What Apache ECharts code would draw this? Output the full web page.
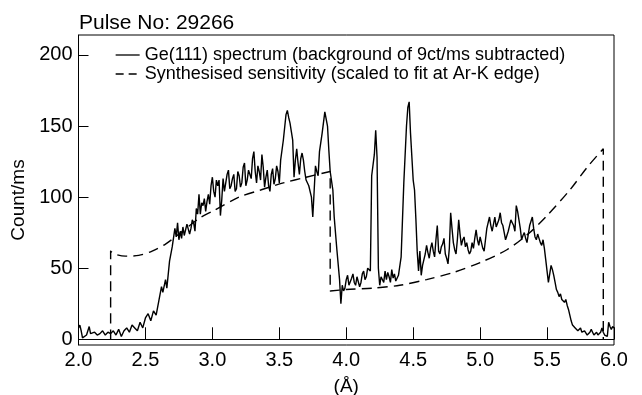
<!DOCTYPE html>
<html>
<head>
<meta charset="utf-8">
<script src="https://cdn.jsdelivr.net/npm/echarts@6/dist/echarts.min.js"></script>
<style>html,body{margin:0;padding:0;background:#fff}#c{width:642px;height:395px}</style>
</head>
<body>
<div id="c"></div>
<script>
const titleText = 'Pulse No: 29266';
const seriesNames = ['Ge(111) spectrum (background of 9ct/ms subtracted)', 'Synthesised sensitivity (scaled to fit at Ar-K edge)'];
const yTicks = [0, 50, 100, 150, 200];

const specX = [2.00,2.01,2.02,2.03,2.04,2.06,2.08,2.09,2.10,2.12,2.14,2.16,2.18,2.20,2.22,2.24,2.26,2.28,2.30,2.32,2.34,2.36,2.38,2.40,2.42,2.44,2.46,2.48,2.50,2.52,2.54,2.56,2.58,2.60,2.62,2.63,2.65,2.66,2.68,2.70,2.72,2.73,2.74,2.75,2.76,2.77,2.78,2.79,2.80,2.81,2.82,2.83,2.84,2.85,2.86,2.87,2.88,2.89,2.90,2.91,2.92,2.93,2.94,2.95,2.96,2.97,2.98,2.99,3.00,3.01,3.02,3.03,3.04,3.05,3.06,3.07,3.08,3.09,3.10,3.11,3.12,3.13,3.14,3.15,3.16,3.17,3.18,3.19,3.20,3.21,3.22,3.23,3.24,3.25,3.26,3.27,3.28,3.29,3.30,3.31,3.32,3.33,3.34,3.35,3.36,3.37,3.38,3.39,3.40,3.41,3.42,3.43,3.44,3.45,3.46,3.47,3.48,3.49,3.50,3.51,3.53,3.55,3.56,3.57,3.58,3.59,3.60,3.61,3.62,3.63,3.64,3.65,3.66,3.67,3.68,3.69,3.70,3.72,3.74,3.75,3.76,3.77,3.78,3.79,3.80,3.82,3.84,3.86,3.87,3.88,3.90,3.91,3.93,3.95,3.96,3.97,3.98,3.99,4.00,4.01,4.02,4.03,4.04,4.05,4.06,4.07,4.08,4.09,4.10,4.11,4.12,4.13,4.14,4.15,4.16,4.18,4.19,4.21,4.22,4.23,4.24,4.25,4.26,4.27,4.28,4.29,4.30,4.31,4.32,4.33,4.34,4.35,4.36,4.37,4.39,4.41,4.43,4.45,4.46,4.47,4.48,4.50,4.51,4.52,4.53,4.54,4.55,4.56,4.57,4.58,4.59,4.60,4.61,4.62,4.63,4.64,4.65,4.66,4.67,4.68,4.69,4.70,4.71,4.72,4.73,4.74,4.75,4.76,4.77,4.78,4.79,4.80,4.81,4.82,4.83,4.84,4.85,4.86,4.87,4.88,4.89,4.90,4.91,4.92,4.93,4.94,4.95,4.96,4.97,4.98,4.99,5.00,5.01,5.02,5.03,5.04,5.05,5.06,5.07,5.08,5.09,5.10,5.11,5.12,5.13,5.14,5.15,5.16,5.17,5.18,5.19,5.20,5.21,5.22,5.23,5.24,5.25,5.26,5.27,5.28,5.29,5.30,5.31,5.32,5.33,5.34,5.35,5.36,5.37,5.38,5.39,5.40,5.41,5.42,5.43,5.44,5.45,5.46,5.47,5.48,5.49,5.50,5.51,5.52,5.53,5.54,5.55,5.56,5.57,5.58,5.59,5.60,5.61,5.62,5.63,5.64,5.65,5.66,5.67,5.68,5.69,5.70,5.71,5.72,5.73,5.74,5.75,5.76,5.77,5.78,5.79,5.80,5.81,5.82,5.83,5.84,5.85,5.86,5.87,5.88,5.89,5.90,5.91,5.92,5.93,5.94,5.95,5.96,5.97,5.98,5.99,6.00];
const specY = [8,10,6,1,2,3,9,4,3,5,3,4,6,3,5,4,6,3,7,2,6,8,5,10,8,6,12,8,15,18,13,20,17,27,37,33,42,36,55,65,78,72,82,70,76,71,79,73,72,81,80,74,78,84,82,76,92,88,102,88,96,94,99,90,97,102,95,108,114,104,100,112,108,112,87,98,113,104,105,116,119,106,108,113,116,104,106,118,115,107,110,121,124,108,112,119,120,113,127,132,118,110,122,118,112,130,121,107,114,119,108,104,116,120,109,113,122,118,110,126,140,158,161,156,152,146,140,114,126,134,124,116,127,131,126,118,112,108,100,86,104,122,118,115,132,145,160,150,133,118,105,86,63,42,25,38,34,36,42,45,38,37,43,46,40,38,44,45,37,40,46,48,42,44,50,48,115,130,147,128,50,38,44,43,40,48,42,47,44,40,49,43,46,41,45,58,110,150,163,167,145,112,105,85,62,48,62,45,52,56,60,66,61,57,64,68,62,58,70,80,62,60,65,67,71,60,57,53,64,89,78,68,63,60,70,84,74,66,70,72,65,68,63,60,62,68,64,71,77,70,66,72,68,64,62,70,78,82,86,80,76,81,86,79,80,84,89,82,80,75,70,73,76,80,84,82,80,76,94,90,84,78,70,73,75,71,68,74,80,83,86,78,72,70,74,71,68,66,70,64,56,48,40,46,52,49,45,40,35,33,30,32,28,27,26,28,24,21,17,13,10,9,8,7,6,7,8,5,4,6,6,3,2,5,7,5,3,4,5,3,2,5,8,5,3,2,2,12,9,7,9,8,6,4,3];

const sensX = [2.24,2.24,2.27,2.35,2.45,2.55,2.65,2.75,2.90,3.00,3.20,3.36,3.53,3.70,3.88,3.88,4.00,4.20,4.40,4.60,4.80,5.00,5.20,5.37,5.50,5.67,5.80,5.92,5.92];
const sensY = [0,62,60,58.5,59,62,67,74,85,90,100,105,110,114,118,34,35,36,38,42,47,54,63,75,87,105,121,134,0];

const specData = specX.map((x, i) => [x, specY[i]]);
const sensData = sensX.map((x, i) => [x, sensY[i]]);

const font = 'Liberation Sans, Arial, Helvetica, sans-serif';
const chart = echarts.init(document.getElementById('c'), null, {renderer: 'canvas'});
chart.setOption({
  animation: false,
  backgroundColor: '#fff',
  title: {
    text: titleText, left: 74, top: 8,
    textStyle: {fontFamily: font, fontSize: 21, fontWeight: 'normal', color: '#000'}
  },
  legend: {
    show: true,
    orient: 'vertical', left: 110, top: 41, itemGap: 1,
    itemWidth: 24, itemHeight: 14,
    itemStyle: {opacity: 0},
    textStyle: {fontFamily: font, fontSize: 18, color: '#000'},
    data: [
      {name: seriesNames[0], lineStyle: {type: 'solid', width: 1.3, color: '#000'}},
      {name: seriesNames[1], lineStyle: {type: [8, 5], width: 1.3, color: '#000'}}
    ]
  },
  grid: {left: 78.5, right: 28, top: 35, bottom: 50, show: true, borderColor: '#000', borderWidth: 1, backgroundColor: 'transparent', outerBoundsMode: 'none'},
  xAxis: {
    type: 'value', min: 2, max: 6, interval: 0.5,
    name: '(Å)', nameLocation: 'middle', nameGap: 32,
    nameTextStyle: {fontFamily: font, fontSize: 19, color: '#000'},
    axisLine: {show: true, lineStyle: {color: '#000', width: 1}},
    axisTick: {show: true, inside: true, length: 12, lineStyle: {color: '#000'}},
    axisLabel: {fontFamily: font, fontSize: 20, color: '#000', margin: 5, formatter: v => v.toFixed(1)},
    splitLine: {show: false}
  },
  yAxis: {
    type: 'value', min: -4, max: 214,
    name: 'Count/ms', nameLocation: 'middle', nameGap: 10,
    nameTextStyle: {fontFamily: font, fontSize: 19, color: '#000', padding: [0, 20, 0, 0]},
    axisLine: {show: true, lineStyle: {color: '#000', width: 1}},
    axisTick: {show: true, inside: true, length: 10, lineStyle: {color: '#000'}, customValues: yTicks},
    axisLabel: {fontFamily: font, fontSize: 20, color: '#000', margin: 6, customValues: yTicks},
    splitLine: {show: false}
  },
  series: [
    {
      name: seriesNames[0], type: 'line', data: specData, symbol: 'none',
      lineStyle: {color: '#000', width: 1.4}, itemStyle: {color: '#000'}
    },
    {
      name: seriesNames[1], type: 'line', data: sensData, symbol: 'none', smooth: 0.3,
      lineStyle: {color: '#000', width: 1.4, type: [10, 6]}, itemStyle: {color: '#000'}
    }
  ]
});
</script>
</body>
</html>
